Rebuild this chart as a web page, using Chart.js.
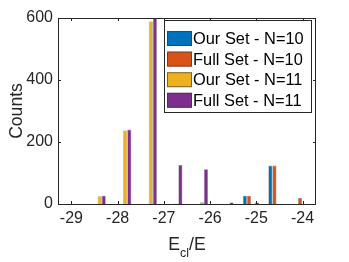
<!DOCTYPE html>
<html>
<head>
<meta charset="utf-8">
<script src="https://cdn.jsdelivr.net/npm/chart.js@4.4.1/dist/chart.umd.min.js"></script>
<style>
    html, body { margin: 0; padding: 0; background: #fff; }
    #wrap { width: 349px; height: 262px; }
</style>
</head>
<body>
<div id="wrap"><canvas id="hist"></canvas></div>
<script>
// bin centres (E_cl/E)
var binCenters = [-28.433, -27.880, -27.327, -26.775, -26.222, -25.669, -25.116, -24.564, -24.011];
var ourSet10  = [0, 0, 0, 0, 0, 0, 27, 124, 0];
var fullSet10 = [0, 0, 0, 0, 0, 0, 27, 124, 19];
var ourSet11  = [25, 237, 589, 2, 6, 1, 1, 0, 0];
var fullSet11 = [27, 240, 620, 126, 112, 5, 5, 0, 0];
var seriesNames = ['Our Set - N=10', 'Full Set - N=10', 'Our Set - N=11', 'Full Set - N=11'];
var xTicks = [-29, -28, -27, -26, -25, -24];
var yTicks = [0, 200, 400, 600];

var colors = ['#0072BD', '#D95319', '#EDB120', '#7E2F8E'];
var axisColor = '#262626';
var fontFam = '"Liberation Sans", Arial, Helvetica, sans-serif';

function toPoints(vals) {
    return vals.map(function (v, i) { return { x: binCenters[i], y: v }; });
}

var allSeries = [ourSet10, fullSet10, ourSet11, fullSet11];
var datasets = allSeries.map(function (vals, k) {
    return {
        label: seriesNames[k],
        data: toPoints(vals),
        backgroundColor: colors[k],
        borderColor: 'rgba(50,50,50,0.55)',
        borderWidth: 0.6,
        categoryPercentage: 0.64,
        barPercentage: 1.0
    };
});

// frame, inward ticks, axis titles, legend box
var matlabLook = {
    id: 'matlabLook',
    afterDatasetsDraw: function (chart) {
        var ctx = chart.ctx;
        var a = chart.chartArea;
        var xs = chart.scales.x, ys = chart.scales.y;
        ctx.save();
        ctx.strokeStyle = axisColor;
        ctx.lineWidth = 1;
        ctx.strokeRect(Math.round(a.left) + 0.5, Math.round(a.top) + 0.5,
            Math.round(a.right - a.left) - 1, Math.round(a.bottom - a.top));
        var tl = 3;
        ctx.beginPath();
        xTicks.forEach(function (t) {
            var px = Math.round(xs.getPixelForValue(t)) + 0.5;
            ctx.moveTo(px, a.bottom); ctx.lineTo(px, a.bottom - tl);
            ctx.moveTo(px, a.top); ctx.lineTo(px, a.top + tl);
        });
        yTicks.forEach(function (t) {
            var py = Math.round(ys.getPixelForValue(t)) + 0.5;
            ctx.moveTo(a.left, py); ctx.lineTo(a.left + tl, py);
            ctx.moveTo(a.right, py); ctx.lineTo(a.right - tl, py);
        });
        ctx.stroke();

        // axis titles
        ctx.fillStyle = axisColor;
        ctx.textBaseline = 'alphabetic';
        var big = '17.6px ' + fontFam, small = '12.5px ' + fontFam;
        ctx.font = big;
        var wE = ctx.measureText('E').width;
        var wSlash = ctx.measureText('/E').width;
        ctx.font = small;
        var wCl = ctx.measureText('cl').width;
        var total = wE + wCl + wSlash;
        var cx = (a.left + a.right) / 2;
        var x0 = cx - total / 2;
        var base = a.bottom + 46;
        ctx.font = big;
        ctx.textAlign = 'left';
        ctx.fillText('E', x0, base);
        ctx.font = small;
        ctx.fillText('cl', x0 + wE, base + 7);
        ctx.font = big;
        ctx.fillText('/E', x0 + wE + wCl, base);

        ctx.save();
        ctx.translate(21.5, (a.top + a.bottom) / 2);
        ctx.rotate(-Math.PI / 2);
        ctx.textAlign = 'center';
        ctx.fillText('Counts', 0, 0);
        ctx.restore();

        // legend
        var lx = a.left + 106, ly = a.top + 2, lw = 147, lh = 92;
        ctx.fillStyle = '#fff';
        ctx.fillRect(lx, ly, lw, lh);
        ctx.strokeStyle = axisColor;
        ctx.strokeRect(lx + 0.5, ly + 0.5, lw, lh);
        ctx.font = '16.4px ' + fontFam;
        ctx.textAlign = 'left';
        ctx.textBaseline = 'middle';
        for (var k = 0; k < seriesNames.length; k++) {
            var cy = ly + 18.5 + k * 20.6;
            ctx.fillStyle = colors[k];
            ctx.fillRect(lx + 3, cy - 7.5, 25, 15);
            ctx.strokeStyle = 'rgba(50,50,50,0.6)';
            ctx.strokeRect(lx + 3 + 0.5, cy - 7.5 + 0.5, 24, 14);
            ctx.fillStyle = '#000';
            ctx.fillText(seriesNames[k], lx + 29, cy + 1);
        }
        ctx.restore();
    }
};

var ctx = document.getElementById('hist').getContext('2d');
var myChart = new Chart(ctx, {
    type: 'bar',
    data: { datasets: datasets },
    options: {
        responsive: true,
        maintainAspectRatio: false,
        animation: false,
        layout: { padding: { left: 0, right: 33, top: 18, bottom: 0 } },
        plugins: { legend: { display: false }, tooltip: { enabled: false } },
        scales: {
            x: {
                type: 'linear',
                offset: false,
                min: -29.29,
                max: -23.71,
                grid: { display: false, drawTicks: false },
                border: { display: false },
                afterBuildTicks: function (scale) {
                    scale.ticks = xTicks.map(function (v) { return { value: v }; });
                },
                afterFit: function (scale) { scale.height = 58; },
                ticks: {
                    color: axisColor,
                    padding: 5,
                    maxRotation: 0,
                    autoSkip: false,
                    font: { family: fontFam, size: 16 }
                }
            },
            y: {
                min: 0,
                max: 600,
                grid: { display: false, drawTicks: false },
                border: { display: false },
                afterBuildTicks: function (scale) {
                    scale.ticks = yTicks.map(function (v) { return { value: v }; });
                },
                afterFit: function (scale) { scale.width = 58; },
                ticks: {
                    color: axisColor,
                    padding: 5,
                    font: { family: fontFam, size: 16 }
                }
            }
        }
    },
    plugins: [matlabLook]
});
</script>
</body>
</html>
